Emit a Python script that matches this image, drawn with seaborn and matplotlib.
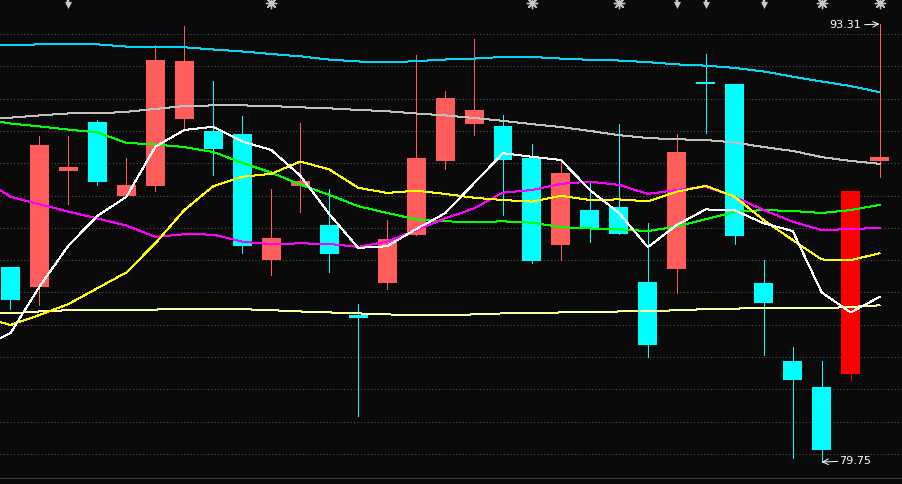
import matplotlib
matplotlib.use("Agg")
import matplotlib.pyplot as plt
import seaborn as sns
import pandas as pd

# ---------------- data ----------------
candle_idx = list(range(31))
opens  = [85.79, 85.18, 88.76, 90.28, 87.98, 88.30, 90.37, 90.00, 89.90, 86.01, 88.30, 87.09, 84.31, 85.30, 86.79, 89.08,
          90.22, 90.15, 89.16, 86.48, 87.55, 87.64, 85.32, 85.72, 91.52, 91.45, 85.29, 82.88, 82.07, 82.48, 89.08]
highs  = [85.79, 89.84, 89.84, 90.34, 89.16, 92.66, 93.25, 91.54, 90.46, 88.20, 90.24, 88.20, 84.64, 87.24, 92.35, 91.24,
          92.85, 90.49, 89.59, 89.07, 88.40, 90.21, 87.15, 89.90, 92.38, 91.45, 86.00, 83.31, 82.88, 88.14, 93.31]
lows   = [84.49, 84.62, 87.74, 88.33, 87.98, 88.15, 90.06, 88.64, 86.23, 85.55, 87.49, 85.64, 81.18, 85.10, 86.79, 88.83,
          89.88, 87.41, 85.92, 86.01, 86.57, 86.82, 83.01, 84.99, 89.94, 86.51, 83.07, 79.88, 79.75, 82.30, 88.58]
closes = [84.76, 89.56, 88.88, 88.43, 88.33, 92.20, 92.16, 89.44, 86.45, 86.68, 88.45, 86.20, 84.22, 86.65, 89.17, 91.02,
          90.65, 89.11, 85.98, 88.70, 86.96, 86.82, 83.38, 89.35, 91.46, 86.76, 84.68, 82.30, 80.13, 88.14, 89.19]
limit_up_idx = [29]

# moving averages (first value belongs to the bar just left of the view)
ma_idx = list(range(-1, 31))
ma5   = [83.29, 83.74, 85.18, 86.45, 87.37, 87.96, 89.51, 90.03, 90.13, 89.67, 89.41, 88.62, 87.43, 86.38, 86.43, 86.96,
         87.45, 88.38, 89.31, 89.20, 89.10, 88.17, 87.46, 86.40, 87.09, 87.57, 87.54, 87.14, 86.90, 85.00, 84.38, 84.86]
ma10  = [84.25, 83.99, 84.30, 84.64, 85.13, 85.62, 86.52, 87.55, 88.29, 88.58, 88.67, 89.05, 88.81, 88.24, 88.08, 88.15,
         88.05, 87.93, 87.86, 87.81, 87.99, 87.86, 87.88, 87.82, 88.12, 88.30, 87.96, 87.24, 86.62, 86.02, 86.00, 86.21]
ma20  = [88.54, 87.96, 87.73, 87.50, 87.29, 87.07, 86.72, 86.80, 86.79, 86.57, 86.49, 86.52, 86.50, 86.41, 86.57, 86.93,
         87.29, 87.60, 88.09, 88.17, 88.36, 88.43, 88.33, 88.05, 88.17, 88.27, 87.96, 87.55, 87.19, 86.93, 86.96, 87.00]
ma30  = [90.37, 90.23, 90.14, 90.04, 89.95, 89.63, 89.58, 89.50, 89.35, 89.01, 88.71, 88.34, 88.02, 87.67, 87.46, 87.26,
         87.20, 87.18, 87.20, 87.16, 87.02, 86.98, 86.95, 86.90, 87.04, 87.27, 87.49, 87.55, 87.52, 87.46, 87.55, 87.71]
ma60  = [90.40, 90.41, 90.48, 90.54, 90.54, 90.59, 90.68, 90.77, 90.79, 90.79, 90.77, 90.73, 90.70, 90.65, 90.61, 90.54,
         90.48, 90.40, 90.31, 90.21, 90.12, 90.00, 89.87, 89.78, 89.74, 89.72, 89.64, 89.50, 89.38, 89.19, 89.07, 88.98]
ma120 = [92.64, 92.65, 92.68, 92.68, 92.68, 92.61, 92.59, 92.59, 92.52, 92.46, 92.38, 92.31, 92.21, 92.15, 92.12, 92.16,
         92.21, 92.24, 92.29, 92.29, 92.24, 92.20, 92.18, 92.13, 92.06, 92.02, 91.95, 91.84, 91.68, 91.53, 91.39, 91.20]
ma250 = [84.35, 84.35, 84.41, 84.45, 84.45, 84.45, 84.47, 84.48, 84.48, 84.48, 84.45, 84.41, 84.38, 84.35, 84.32, 84.29,
         84.29, 84.32, 84.35, 84.35, 84.38, 84.38, 84.41, 84.41, 84.45, 84.48, 84.50, 84.51, 84.51, 84.51, 84.55, 84.60]

arrow_idx = [2, 23, 24, 26]
star_idx = [9, 18, 21, 28, 30]
grid_levels = list(range(80, 94))

# ---------------- style ----------------
BG = "#0a0a0a"
UP = "#ff5c5c"
DOWN = "#00ffff"
LIMIT = "#ff0000"
PX = 0.72  # one pixel in points at dpi 100

sns.set_style("dark")
plt.rcParams["font.family"] = ["DejaVu Sans"]

fig = plt.figure(figsize=(9.02, 4.84), dpi=100, facecolor=BG)
ax = fig.add_axes([0, 6 / 484, 1, 478 / 484])
ax.set_facecolor(BG)

# candles
df = pd.DataFrame({"i": candle_idx, "o": opens, "h": highs, "l": lows, "c": closes})
colors = []
for i, o, c in zip(df.i, df.o, df.c):
    if i in limit_up_idx:
        colors.append(LIMIT)
    elif c > o:
        colors.append(UP)
    else:
        colors.append(DOWN)
df["color"] = colors
df["bottom"] = df[["o", "c"]].min(axis=1)
df["height"] = (df.c - df.o).abs().clip(lower=0.06)

ax.vlines(df.i, df.l, df.h, colors=df.color, linewidth=1.0 * PX, zorder=2, antialiased=False)
ax.bar(df.i, df.height, bottom=df.bottom, width=0.655, color=df.color, linewidth=0, zorder=3, antialiased=False)

# moving average lines
ma_df = pd.DataFrame({"i": ma_idx, "MA5": ma5, "MA10": ma10, "MA20": ma20, "MA30": ma30,
                      "MA60": ma60, "MA120": ma120, "MA250": ma250})
ma_colors = {"MA250": "#ffffa0", "MA120": "#00d8f8", "MA60": "#c0c0c0", "MA30": "#00ff00",
             "MA20": "#ff00ff", "MA10": "#ffff00", "MA5": "#ffffff"}
for name, col in ma_colors.items():
    sns.lineplot(data=ma_df, x="i", y=name, color=col, linewidth=1.0 * PX, ax=ax,
                 zorder=4, legend=False, antialiased=False, sort=False)

# top event markers
ax.scatter(arrow_idx, [93.91] * len(arrow_idx), marker="v", s=26, color="#c8c8c8", zorder=5, linewidths=0)
ax.vlines(arrow_idx, 93.91, 94.06, colors="#c8c8c8", linewidth=2.5 * PX, zorder=5)
ax.scatter(star_idx, [93.96] * len(star_idx), marker=(8, 2, 0), s=55, color="#c8c8c8", linewidths=1.0, zorder=5)
ax.scatter(star_idx, [93.96] * len(star_idx), marker="o", s=16, color="#c8c8c8", linewidths=0, zorder=5)

# max / min labels
imax = highs.index(max(highs))
imin = lows.index(min(lows))
ax.annotate("", xy=(imax, max(highs)), xytext=(-15 * PX, -0.7 * PX), textcoords="offset points",
            arrowprops=dict(arrowstyle="->", color="white", lw=PX, shrinkA=0, shrinkB=0), zorder=6)
ax.annotate(f"{max(highs):.2f}", xy=(imax, max(highs)), xytext=(-19 * PX, -1 * PX), textcoords="offset points",
            ha="right", va="center", color="white", fontsize=8, zorder=6)
ax.annotate("", xy=(imin, min(lows)), xytext=(16 * PX, 0.5 * PX), textcoords="offset points",
            arrowprops=dict(arrowstyle="->", color="white", lw=PX, shrinkA=0, shrinkB=0), zorder=6)
ax.annotate(f"{min(lows):.2f}", xy=(imin, min(lows)), xytext=(17 * PX, 0.5 * PX), textcoords="offset points",
            ha="left", va="center", color="white", fontsize=8, zorder=6)

# axes, grid
ax.set_xlim(-0.3624, 30.773)
ax.set_ylim(79.254, 94.053)
ax.set_yticks(grid_levels)
ax.set_xticks([])
ax.yaxis.grid(True, color="#5a5a5a", linestyle=(0, (1, 2.4)), linewidth=PX)
ax.xaxis.grid(False)
ax.tick_params(length=0, labelleft=False, labelbottom=False)
ax.set_xlabel("")
ax.set_ylabel("")
for side in ["top", "left", "right"]:
    ax.spines[side].set_visible(False)
ax.spines["bottom"].set_visible(True)
ax.spines["bottom"].set_color("#3a3a3a")
ax.spines["bottom"].set_linewidth(1.2 * PX)

fig.savefig("out.png", dpi=100, facecolor=BG)
